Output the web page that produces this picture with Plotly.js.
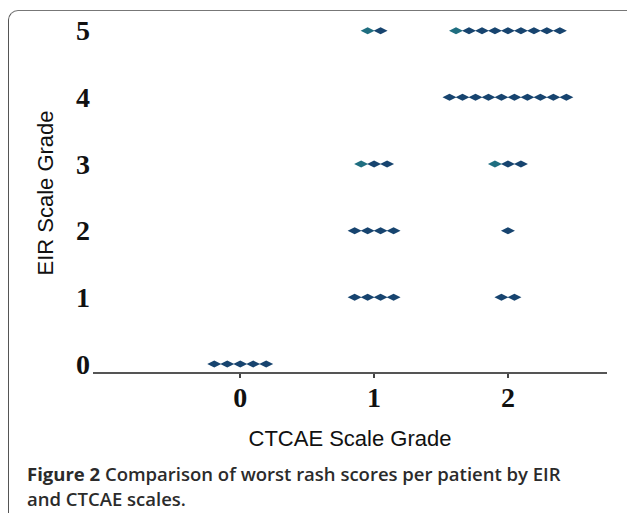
<!DOCTYPE html>
<html>
<head>
<meta charset="utf-8">
<script src="https://cdn.plot.ly/plotly-3.0.1.min.js"></script>
<style>
  html, body { margin: 0; padding: 0; background: #ffffff; }
  #wrap { position: relative; width: 627px; height: 513px; overflow: hidden; background: #fff; }
  #frame { position: absolute; left: 8px; top: 10px; width: 700px; height: 600px;
           border-left: 1.5px solid #555; border-top: 1.5px solid #777; border-top-left-radius: 10px; }
  #chart { position: absolute; left: 0; top: 0; width: 627px; height: 513px; }
</style>
</head>
<body>
<div id="wrap">
  <div id="frame"></div>
  <div id="chart"></div>
</div>
<script>
// Groups of patients: CTCAE grade, EIR grade, and number of patients in each group
const ctcaeGrade = [0, 1, 1, 1, 1, 2, 2, 2, 2, 2];
const eirGrade   = [0, 1, 2, 3, 5, 1, 2, 3, 4, 5];
const patientCount = [5, 4, 4, 3, 2, 2, 1, 3, 10, 9];
const xTickVals = [0, 1, 2];
const xTickText = ['0', '1', '2'];
const yTickVals = [0, 1, 2, 3, 4, 5];
const yTickText = ['0', '1', '2', '3', '4', '5'];
// first dot of these groups is drawn in teal in the original
const tealFirst = [false, false, false, true, true, false, false, true, false, true];

// dot-plot spreading of identical points (layout, not data)
const spread = 0.097;
const xs = [], ys = [], cols = [];
for (let g = 0; g < ctcaeGrade.length; g++) {
  const n = patientCount[g];
  for (let i = 0; i < n; i++) {
    xs.push(ctcaeGrade[g] + (i - (n - 1) / 2) * spread);
    ys.push(eirGrade[g]);
    cols.push(tealFirst[g] && i === 0 ? '#1f6e80' : '#17446f');
  }
}

const tickFont = { family: 'Liberation Serif, Times New Roman, serif', size: 28, color: '#111', weight: 'bold' };
const titleFont = { family: 'Liberation Sans, Arial, sans-serif', size: 22, color: '#111' };
const capFont = { family: 'Open Sans, Lato, sans-serif', size: 18.5, color: '#2b2b2b', weight: 600 };

const trace = {
  type: 'scatter', mode: 'markers', x: xs, y: ys,
  marker: { symbol: 'diamond-wide', size: 10, color: cols, line: { width: 0 } },
  cliponaxis: false, hoverinfo: 'x+y'
};

const plotW = 627 - 93 - 20, plotH = 513 - 14 - 141;
const layout = {
  width: 627, height: 513,
  margin: { l: 93, r: 20, t: 14, b: 141 },
  paper_bgcolor: 'rgba(0,0,0,0)', plot_bgcolor: 'rgba(0,0,0,0)',
  showlegend: false,
  xaxis: {
    range: [-1.1, 2.74], tickvals: xTickVals, ticktext: xTickText,
    ticks: 'outside', ticklen: 4, tickwidth: 1.5, tickcolor: '#444',
    showline: true, linecolor: '#555', linewidth: 1.5,
    showgrid: false, zeroline: false, tickfont: tickFont, ticklabelstandoff: -4,
    title: { text: 'CTCAE Scale Grade', font: titleFont, standoff: 18 }
  },
  yaxis: {
    range: [-0.12, 5.25], tickvals: yTickVals, ticktext: yTickText,
    ticks: '', showline: false, showgrid: false, zeroline: false,
    tickfont: tickFont, ticklabelstandoff: 2,
    title: { text: 'EIR Scale Grade', font: titleFont, standoff: 16 }
  },
  annotations: [
    { xref: 'paper', yref: 'paper', x: (25 - 93) / plotW, y: (372 - 474) / plotH,
      xanchor: 'left', yanchor: 'middle', showarrow: false, align: 'left',
      text: '<b>Figure 2</b> Comparison of worst rash scores per patient by EIR',
      font: capFont },
    { xref: 'paper', yref: 'paper', x: (25 - 93) / plotW, y: (372 - 498) / plotH,
      xanchor: 'left', yanchor: 'middle', showarrow: false, align: 'left',
      text: 'and CTCAE scales.',
      font: capFont }
  ]
};

Plotly.newPlot('chart', [trace], layout, { displayModeBar: false, staticPlot: true });
</script>
</body>
</html>
